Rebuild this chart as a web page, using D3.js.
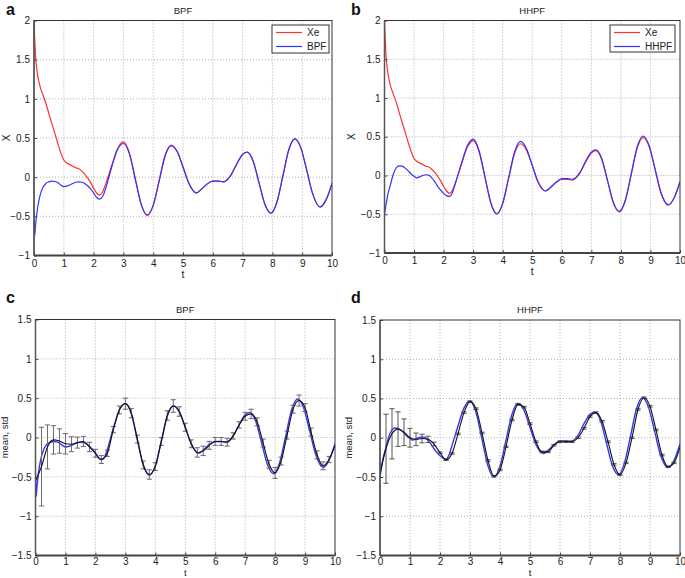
<!DOCTYPE html>
<html>
<head>
<meta charset="utf-8">
<script src="https://cdn.jsdelivr.net/npm/d3@7"></script>
<style>
  body { margin: 0; background: #fff; }
  svg { display: block; font-family: "Liberation Sans", Arial, sans-serif; }
  .tick text { font-size: 10px; fill: #222; }
</style>
</head>
<body>
<script>
// ---- data ----
const xTicks = [0, 1, 2, 3, 4, 5, 6, 7, 8, 9, 10];
const yTicksTop = [-1, -0.5, 0, 0.5, 1, 1.5, 2];
const yTicksBottom = [-1.5, -1, -0.5, 0, 0.5, 1, 1.5];

// Xe reference signal [t, x]
const xe = [
  [0, 2.0], [0.02, 1.8], [0.05, 1.56], [0.1, 1.36], [0.2, 1.16], [0.3, 1.05], [0.4, 0.94], [0.5, 0.81],
  [0.6, 0.68], [0.7, 0.56], [0.8, 0.43], [0.9, 0.31], [1.0, 0.22], [1.1, 0.18], [1.2, 0.16], [1.3, 0.14],
  [1.4, 0.12], [1.5, 0.11], [1.6, 0.08], [1.7, 0.04], [1.8, -0.01], [1.9, -0.07], [2.0, -0.14], [2.1, -0.2],
  [2.2, -0.23], [2.3, -0.19], [2.4, -0.095], [2.6, 0.14], [2.8, 0.36], [3.0, 0.45], [3.2, 0.31], [3.4, -0.02],
  [3.6, -0.35], [3.8, -0.49], [4.0, -0.36], [4.2, -0.04], [4.4, 0.28], [4.6, 0.41], [4.8, 0.33], [5.0, 0.13],
  [5.2, -0.08], [5.45, -0.2], [5.6, -0.16], [5.8, -0.09], [6.0, -0.05], [6.2, -0.05], [6.35, -0.06], [6.6, 0.024],
  [6.8, 0.167], [7.0, 0.29], [7.15, 0.32], [7.35, 0.21], [7.55, -0.07], [7.75, -0.35], [7.95, -0.46], [8.15, -0.32],
  [8.35, 0.015], [8.55, 0.35], [8.75, 0.49], [8.95, 0.38], [9.15, 0.095], [9.35, -0.21], [9.6, -0.38], [9.8, -0.29],
  [10, -0.08]
];

// BPF estimate [t, x]
const bpf = [
  [0, -0.45], [0.02, -0.75], [0.05, -0.62], [0.1, -0.45], [0.15, -0.33], [0.2, -0.24], [0.3, -0.13], [0.4, -0.08],
  [0.5, -0.06], [0.6, -0.05], [0.7, -0.055], [0.8, -0.07], [0.9, -0.1], [1.0, -0.12], [1.1, -0.115], [1.2, -0.1],
  [1.3, -0.08], [1.4, -0.065], [1.5, -0.06], [1.6, -0.065], [1.7, -0.08], [1.8, -0.11], [1.9, -0.15], [2.0, -0.2],
  [2.1, -0.26], [2.2, -0.28], [2.3, -0.25], [2.4, -0.15], [2.6, 0.12], [2.8, 0.35], [3.0, 0.43], [3.2, 0.3],
  [3.4, -0.03], [3.6, -0.35], [3.8, -0.48], [4.0, -0.36], [4.2, -0.05], [4.4, 0.27], [4.6, 0.4], [4.8, 0.33],
  [5.0, 0.13], [5.2, -0.08], [5.45, -0.2], [5.6, -0.16], [5.8, -0.09], [6.0, -0.05], [6.2, -0.05], [6.35, -0.06],
  [6.6, 0.02], [6.8, 0.165], [7.0, 0.29], [7.15, 0.32], [7.35, 0.21], [7.55, -0.07], [7.75, -0.35], [7.95, -0.46],
  [8.15, -0.32], [8.35, 0.01], [8.55, 0.35], [8.75, 0.49], [8.95, 0.38], [9.15, 0.09], [9.35, -0.21], [9.6, -0.38],
  [9.8, -0.29], [10, -0.08]
];

// HHPF estimate [t, x]
const hhpf = [
  [0, -0.5], [0.05, -0.38], [0.1, -0.27], [0.2, -0.12], [0.3, 0.02], [0.4, 0.1], [0.5, 0.125], [0.6, 0.12],
  [0.7, 0.095], [0.8, 0.06], [0.9, 0.02], [1.0, -0.01], [1.1, -0.03], [1.2, -0.015], [1.3, 0.0], [1.4, 0.01],
  [1.5, 0.005], [1.6, -0.03], [1.7, -0.08], [1.8, -0.14], [1.9, -0.19], [2.0, -0.23], [2.1, -0.26], [2.2, -0.27],
  [2.3, -0.22], [2.4, -0.1], [2.6, 0.15], [2.8, 0.38], [3.0, 0.47], [3.2, 0.32], [3.4, -0.02], [3.6, -0.36],
  [3.8, -0.5], [4.0, -0.36], [4.2, -0.03], [4.4, 0.3], [4.6, 0.44], [4.8, 0.35], [5.0, 0.13], [5.2, -0.09],
  [5.45, -0.2], [5.6, -0.16], [5.8, -0.09], [6.0, -0.04], [6.2, -0.04], [6.35, -0.05], [6.6, 0.03], [6.8, 0.18],
  [7.0, 0.3], [7.15, 0.33], [7.35, 0.22], [7.55, -0.07], [7.75, -0.36], [7.95, -0.47], [8.15, -0.32], [8.35, 0.02],
  [8.55, 0.37], [8.75, 0.51], [8.95, 0.39], [9.15, 0.09], [9.35, -0.22], [9.6, -0.38], [9.8, -0.29], [10, -0.08]
];

// mean and std over runs [t, mean, std]
const statsBpf = [
  [0, -0.55, 0], [0.2, -0.37, 0.5], [0.4, -0.12, 0.28], [0.6, -0.03, 0.18], [0.8, -0.045, 0.155], [1.0, -0.08, 0.13],
  [1.2, -0.085, 0.095], [1.4, -0.065, 0.07], [1.6, -0.05, 0.065], [1.8, -0.12, 0.06], [2.0, -0.2, 0.05], [2.2, -0.28, 0.05],
  [2.4, -0.2, 0.04], [2.6, 0.1, 0.04], [2.8, 0.35, 0.05], [3.0, 0.43, 0.07], [3.2, 0.31, 0.06], [3.4, -0.02, 0.05],
  [3.6, -0.35, 0.05], [3.8, -0.47, 0.06], [4.0, -0.37, 0.05], [4.2, -0.05, 0.05], [4.4, 0.28, 0.06], [4.6, 0.4, 0.08],
  [4.8, 0.33, 0.06], [5.0, 0.13, 0.05], [5.2, -0.08, 0.05], [5.4, -0.19, 0.06], [5.6, -0.17, 0.06], [5.8, -0.1, 0.05],
  [6.0, -0.05, 0.05], [6.2, -0.05, 0.05], [6.4, -0.06, 0.05], [6.6, 0.02, 0.04], [6.8, 0.16, 0.04], [7.0, 0.27, 0.05],
  [7.2, 0.3, 0.06], [7.4, 0.2, 0.05], [7.6, -0.07, 0.05], [7.8, -0.34, 0.05], [8.0, -0.45, 0.07], [8.2, -0.3, 0.05],
  [8.4, 0.03, 0.05], [8.6, 0.36, 0.05], [8.8, 0.47, 0.07], [9.0, 0.38, 0.05], [9.2, 0.07, 0.05], [9.4, -0.22, 0.05],
  [9.6, -0.36, 0.05], [9.8, -0.28, 0.04], [10, -0.1, 0]
];

const statsHhpf = [
  [0, -0.45, 0], [0.2, -0.14, 0.44], [0.4, 0.05, 0.32], [0.6, 0.11, 0.22], [0.8, 0.07, 0.17], [1.0, 0.0, 0.12],
  [1.2, -0.02, 0.08], [1.4, -0.01, 0.055], [1.6, -0.02, 0.04], [1.8, -0.08, 0.025], [2.0, -0.19, 0.01], [2.2, -0.28, 0.01],
  [2.4, -0.2, 0.01], [2.6, 0.05, 0.01], [2.8, 0.32, 0.01], [3.0, 0.46, 0.01], [3.2, 0.37, 0.01], [3.4, 0.06, 0.01],
  [3.6, -0.29, 0.01], [3.8, -0.49, 0.01], [4.0, -0.41, 0.01], [4.2, -0.115, 0.01], [4.4, 0.225, 0.01], [4.6, 0.425, 0.01],
  [4.8, 0.39, 0.01], [5.0, 0.18, 0.01], [5.2, -0.05, 0.01], [5.4, -0.18, 0.01], [5.6, -0.18, 0.01], [5.8, -0.095, 0.01],
  [6.0, -0.05, 0.01], [6.2, -0.05, 0.01], [6.4, -0.05, 0.01], [6.6, 0.0, 0.01], [6.8, 0.12, 0.01], [7.0, 0.27, 0.01],
  [7.2, 0.32, 0.01], [7.4, 0.21, 0.01], [7.6, -0.05, 0.01], [7.8, -0.34, 0.01], [8.0, -0.47, 0.01], [8.2, -0.32, 0.01],
  [8.4, 0.0, 0.01], [8.6, 0.36, 0.01], [8.8, 0.51, 0.01], [9.0, 0.4, 0.01], [9.2, 0.1, 0.01], [9.4, -0.22, 0.01],
  [9.6, -0.37, 0.01], [9.8, -0.32, 0.01], [10, -0.12, 0]
];

const RED = "#ff3030";
const BLUE = "#3333ff";

const svg = d3.select("body").append("svg").attr("width", 685).attr("height", 578);

const fmt = (d) => (d < 0 ? "\u2212" + Math.abs(d) : String(d));

function drawPanel(p) {
  const x = d3.scaleLinear().domain([0, 10]).range([p.left, p.right]);
  const y = d3.scaleLinear().domain(p.yDomain).range([p.bottom, p.top]);
  const g = svg.append("g");

  // dotted grid
  g.append("g")
    .selectAll("line")
    .data(xTicks.slice(1, -1))
    .join("line")
    .attr("x1", (d) => x(d)).attr("x2", (d) => x(d))
    .attr("y1", p.top).attr("y2", p.bottom)
    .attr("stroke", "#9a9a9a").attr("stroke-width", 0.8).attr("stroke-dasharray", "1,2");
  g.append("g")
    .selectAll("line")
    .data(p.yTicks.slice(1, -1))
    .join("line")
    .attr("x1", p.left).attr("x2", p.right)
    .attr("y1", (d) => y(d)).attr("y2", (d) => y(d))
    .attr("stroke", "#9a9a9a").attr("stroke-width", 0.8).attr("stroke-dasharray", "1,2");

  const clipId = "clip-" + p.letter;
  g.append("clipPath").attr("id", clipId)
    .append("rect").attr("x", p.left).attr("y", p.top - 1)
    .attr("width", p.right - p.left).attr("height", p.bottom - p.top + 2);
  const plot = g.append("g").attr("clip-path", `url(#${clipId})`);

  const line = d3.line().x((d) => x(d[0])).y((d) => y(d[1])).curve(d3.curveMonotoneX);

  p.series.forEach((s) => {
    plot.append("path")
      .datum(s.data)
      .attr("fill", "none")
      .attr("stroke", s.color)
      .attr("stroke-width", s.width || 1.2)
      .attr("d", line);
  });

  if (p.stats) {
    const bars = p.stats.filter((d) => d[2] > 0);
    const cap = 2.6;
    const eb = plot.append("g").attr("stroke", p.barColor).attr("stroke-width", 1);
    eb.selectAll("line.v").data(bars).join("line").attr("class", "v")
      .attr("x1", (d) => x(d[0])).attr("x2", (d) => x(d[0]))
      .attr("y1", (d) => y(d[1] - d[2])).attr("y2", (d) => y(d[1] + d[2]));
    eb.selectAll("line.t").data(bars).join("line").attr("class", "t")
      .attr("x1", (d) => x(d[0]) - cap).attr("x2", (d) => x(d[0]) + cap)
      .attr("y1", (d) => y(d[1] + d[2])).attr("y2", (d) => y(d[1] + d[2]));
    eb.selectAll("line.b").data(bars).join("line").attr("class", "b")
      .attr("x1", (d) => x(d[0]) - cap).attr("x2", (d) => x(d[0]) + cap)
      .attr("y1", (d) => y(d[1] - d[2])).attr("y2", (d) => y(d[1] - d[2]));
    plot.append("path")
      .datum(p.stats)
      .attr("fill", "none")
      .attr("stroke", "#111")
      .attr("stroke-width", 1.1)
      .attr("d", line);
  }

  // axes
  const ax = g.append("g")
    .attr("transform", `translate(0,${p.bottom})`)
    .call(d3.axisBottom(x).tickValues(xTicks).tickSize(-3).tickPadding(p.xPad).tickFormat(fmt));
  const ay = g.append("g")
    .attr("transform", `translate(${p.left},0)`)
    .call(d3.axisLeft(y).tickValues(p.yTicks).tickSize(-3).tickPadding(4).tickFormat(fmt));
  [ax, ay].forEach((a) => {
    a.select(".domain").remove();
    a.selectAll(".tick line").attr("stroke", "#444");
    a.selectAll(".tick text").attr("font-family", "Liberation Sans, Arial, sans-serif");
  });

  g.append("rect")
    .attr("x", p.left).attr("y", p.top)
    .attr("width", p.right - p.left).attr("height", p.bottom - p.top)
    .attr("fill", "none").attr("stroke", "#333").attr("stroke-width", 1);
  g.append("line")
    .attr("x1", p.left).attr("x2", p.right).attr("y1", p.bottom).attr("y2", p.bottom)
    .attr("stroke", "#444").attr("stroke-width", 2);
  g.append("line")
    .attr("x1", p.left).attr("x2", p.left).attr("y1", p.top).attr("y2", p.bottom)
    .attr("stroke", "#555").attr("stroke-width", 1.5);

  // texts
  g.append("text")
    .attr("x", (p.left + p.right) / 2).attr("y", p.top - 7)
    .attr("text-anchor", "middle").attr("font-size", 9.5).attr("fill", "#222")
    .text(p.title);
  g.append("text")
    .attr("x", (p.left + p.right) / 2).attr("y", p.xLabelY)
    .attr("text-anchor", "middle").attr("font-size", p.xLabelSize).attr("fill", "#222")
    .text("t");
  g.append("text")
    .attr("transform", `translate(${p.yLabelX},${(p.top + p.bottom) / 2}) rotate(-90)`)
    .attr("text-anchor", "middle").attr("font-size", p.yLabelSize).attr("fill", "#222")
    .text(p.yLabel);
  g.append("text")
    .attr("x", p.letterX).attr("y", p.letterY)
    .attr("font-size", 16).attr("font-weight", "bold").attr("fill", "#111")
    .text(p.letter);

  if (p.legend) {
    const L = p.legend;
    const lg = g.append("g");
    lg.append("rect")
      .attr("x", L.x).attr("y", L.y).attr("width", L.w).attr("height", L.h)
      .attr("fill", "#fff").attr("stroke", "#333").attr("stroke-width", 1);
    p.series.forEach((s, i) => {
      const yy = L.y + 7.5 + i * 14;
      lg.append("line")
        .attr("x1", L.x + 4).attr("x2", L.x + 30).attr("y1", yy).attr("y2", yy)
        .attr("stroke", s.color).attr("stroke-width", 1.2);
      lg.append("text")
        .attr("x", L.x + 35).attr("y", yy).attr("dy", "0.35em")
        .attr("font-size", 10).attr("fill", "#222")
        .text(s.name);
    });
  }
}

drawPanel({
  letter: "a", letterX: 6, letterY: 15, title: "BPF",
  left: 34, right: 332, top: 20.5, bottom: 255.5, xPad: 4, xLabelY: 278, xLabelSize: 10.5,
  yDomain: [-1, 2], yTicks: yTicksTop, yLabel: "X", yLabelX: 10, yLabelSize: 10,
  series: [
    { name: "Xe", data: xe, color: RED },
    { name: "BPF", data: bpf, color: BLUE }
  ],
  legend: { x: 272, y: 25, w: 57, h: 28 }
});

drawPanel({
  letter: "b", letterX: 351, letterY: 15, title: "HHPF",
  left: 384.5, right: 680, top: 20.5, bottom: 253, xPad: 4, xLabelY: 275, xLabelSize: 10.5,
  yDomain: [-1, 2], yTicks: yTicksTop, yLabel: "X", yLabelX: 355, yLabelSize: 10,
  series: [
    { name: "Xe", data: xe, color: RED },
    { name: "HHPF", data: hhpf, color: BLUE }
  ],
  legend: { x: 610, y: 25, w: 65, h: 27 }
});

drawPanel({
  letter: "c", letterX: 6, letterY: 303, title: "BPF",
  left: 35.5, right: 335, top: 319.5, bottom: 555.5, xPad: 2, xLabelY: 576, xLabelSize: 9.5,
  yDomain: [-1.5, 1.5], yTicks: yTicksBottom, yLabel: "mean, std", yLabelX: 8, yLabelSize: 9.5,
  series: [{ name: "BPF", data: bpf, color: BLUE, width: 1.4 }],
  stats: statsBpf, barColor: "#6a6a6a"
});

drawPanel({
  letter: "d", letterX: 351, letterY: 303, title: "HHPF",
  left: 380, right: 680, top: 320, bottom: 555.5, xPad: 2, xLabelY: 576, xLabelSize: 9.5,
  yDomain: [-1.5, 1.5], yTicks: yTicksBottom, yLabel: "mean, std", yLabelX: 352, yLabelSize: 9.5,
  series: [{ name: "HHPF", data: hhpf, color: BLUE, width: 1.4 }],
  stats: statsHhpf, barColor: "#555"
});
</script>
</body>
</html>
